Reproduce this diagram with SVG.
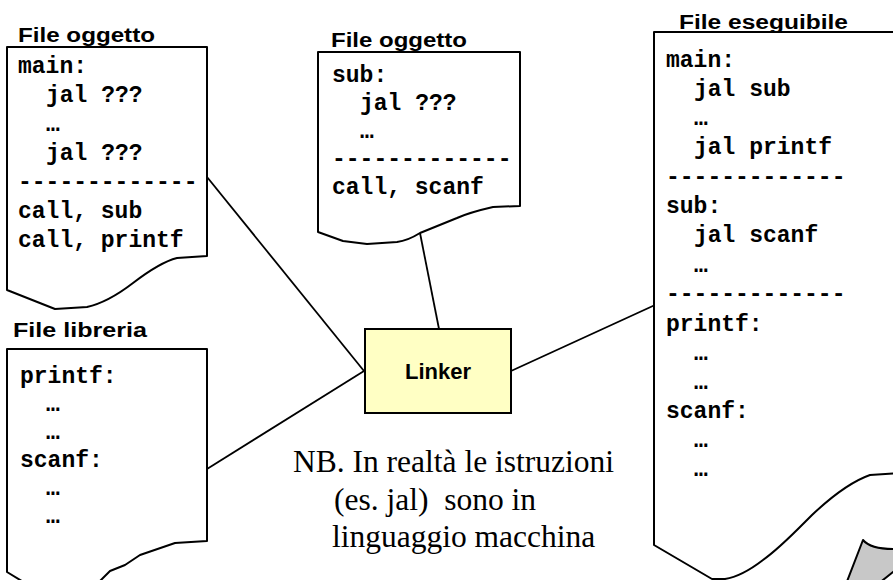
<svg xmlns="http://www.w3.org/2000/svg" width="893" height="580" viewBox="0 0 893 580">
  <style>
    .page { fill: #ffffff; stroke: #000000; stroke-width: 2; stroke-linejoin: round; }
    .curl { fill: #c8c8c8; stroke: #000000; stroke-width: 2; stroke-linejoin: round; }
    .title { font-family: "Liberation Sans", Arial, sans-serif; font-weight: bold; font-size: 20px; fill: #000000; }
    .code { font-family: "Liberation Mono", "Courier New", monospace; font-weight: bold; font-size: 23px; fill: #000000; }
    .link { stroke: #000000; stroke-width: 1.8; fill: none; }
    .linker { fill: #ffffc4; stroke: #000000; stroke-width: 2; }
    .linker-label { font-family: "Liberation Sans", Arial, sans-serif; font-weight: bold; font-size: 22px; fill: #000000; }
    .note { font-family: "Liberation Serif", "Times New Roman", serif; font-size: 31.5px; fill: #000000; }
  </style>
  <rect x="0" y="0" width="893" height="580" fill="#ffffff"/>

  <!-- connectors -->
  <g id="connectors">
    <line class="link" x1="207" y1="177" x2="364" y2="371"/>
    <line class="link" x1="207" y1="469" x2="364" y2="371"/>
    <line class="link" x1="420" y1="233" x2="439" y2="329"/>
    <line class="link" x1="511" y1="371" x2="655" y2="305"/>
  </g>

  <!-- object file: main -->
  <g id="obj-main">
    <text class="title" x="18" y="42" textLength="137" lengthAdjust="spacingAndGlyphs">File oggetto</text>
    <path class="page" d="M7,47 H207 V256 L177,258 C165,261 150,270 133,283 C120,293 105,303 87,307 L55,309 L7,290 Z"/>
    <text class="code" x="18" y="73">main:</text>
    <text class="code" x="46" y="102">jal ???</text>
    <text class="code" x="46" y="131">…</text>
    <text class="code" x="46" y="160">jal ???</text>
    <text class="code" x="18" y="189">-------------</text>
    <text class="code" x="18" y="218">call, sub</text>
    <text class="code" x="18" y="247">call, printf</text>
  </g>

  <!-- object file: sub -->
  <g id="obj-sub">
    <text class="title" x="331" y="47" textLength="136" lengthAdjust="spacingAndGlyphs">File oggetto</text>
    <path class="page" d="M318,52 H520 V206 L493,207 C480,210 468,213 457,218 L420,233 C412,238 405,241 397,242 L367,244 L343,241 L318,232 Z"/>
    <text class="code" x="332" y="82">sub:</text>
    <text class="code" x="360" y="110">jal ???</text>
    <text class="code" x="360" y="138">…</text>
    <text class="code" x="332" y="166">-------------</text>
    <text class="code" x="332" y="194">call, scanf</text>
  </g>

  <!-- library file -->
  <g id="library">
    <text class="title" x="13" y="337" textLength="134" lengthAdjust="spacingAndGlyphs">File libreria</text>
    <path class="page" d="M7,349 H207 V541 L175,543 L140,555 L125,565 L110,571 L95,586 L30,586 L7,572 Z"/>
    <text class="code" x="20" y="383">printf:</text>
    <text class="code" x="46" y="411">…</text>
    <text class="code" x="46" y="439">…</text>
    <text class="code" x="20" y="467">scanf:</text>
    <text class="code" x="46" y="495">…</text>
    <text class="code" x="46" y="523">…</text>
  </g>

  <!-- linker -->
  <g id="linker">
    <rect class="linker" x="365" y="329" width="146" height="84"/>
    <text class="linker-label" x="438" y="379" text-anchor="middle">Linker</text>
  </g>

  <!-- executable file -->
  <g id="executable">
    <text class="title" x="679" y="29" textLength="169" lengthAdjust="spacingAndGlyphs">File eseguibile</text>
    <path class="page" d="M654,32 H900 V473 L870,475 C850,482 830,498 812,515 C795,532 780,548 763,560 C750,570 738,577 725,579 L712,579 L654,545 Z"/>
    <path class="curl" d="M863,540 C868,546 878,549 893,549 L902,549 L902,566 L893,572 L878,584 L846,584 Z"/>
    <text class="code" x="666" y="67">main:</text>
    <text class="code" x="694" y="96">jal sub</text>
    <text class="code" x="694" y="125">…</text>
    <text class="code" x="694" y="154">jal printf</text>
    <text class="code" x="666" y="184">-------------</text>
    <text class="code" x="666" y="213">sub:</text>
    <text class="code" x="694" y="242">jal scanf</text>
    <text class="code" x="694" y="272">…</text>
    <text class="code" x="666" y="301">-------------</text>
    <text class="code" x="666" y="331">printf:</text>
    <text class="code" x="694" y="360">…</text>
    <text class="code" x="694" y="389">…</text>
    <text class="code" x="666" y="418">scanf:</text>
    <text class="code" x="694" y="447">…</text>
    <text class="code" x="694" y="476">…</text>
  </g>

  <!-- note -->
  <g id="note">
    <text class="note" x="293" y="472">NB. In realtà le istruzioni</text>
    <text class="note" x="334" y="510" xml:space="preserve">(es. jal)  sono in</text>
    <text class="note" x="332" y="547">linguaggio macchina</text>
  </g>
</svg>
